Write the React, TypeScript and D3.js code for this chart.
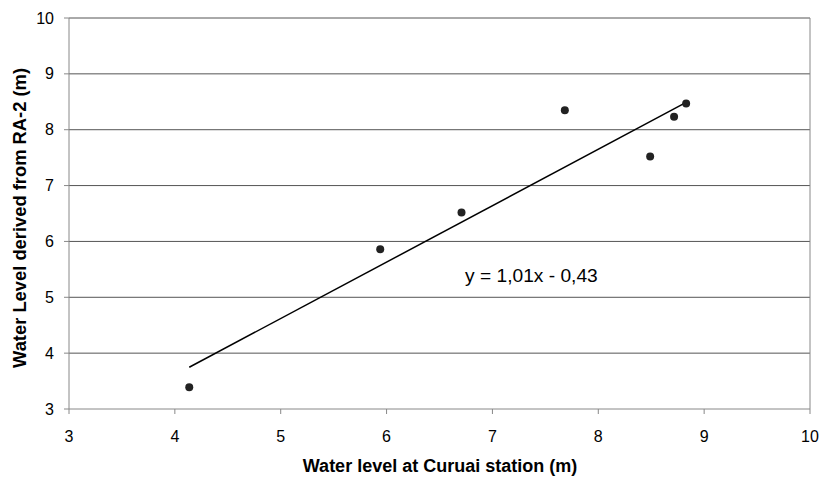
import React from "react";
import * as d3 from "d3";

const xValues = [4.136, 5.94, 6.708, 7.684, 8.49, 8.716, 8.83];
const yValues = [3.39, 5.86, 6.52, 8.35, 7.52, 8.23, 8.47];
const xTicks = [3, 4, 5, 6, 7, 8, 9, 10];
const yTicks = [3, 4, 5, 6, 7, 8, 9, 10];
const trendSlope = 1.01;
const trendIntercept = -0.43;
const equationLabel = "y = 1,01x - 0,43";
const xTitle = "Water level at Curuai station (m)";
const yTitle = "Water Level derived from RA-2 (m)";

export default function App() {
  const W = 822, H = 479;
  const left = 69, right = 810, top = 18, bottom = 409;
  const x = d3.scaleLinear().domain([3, 10]).range([left, right]);
  const y = d3.scaleLinear().domain([3, 10]).range([bottom, top]);
  const font = "Arial, 'Liberation Sans', Helvetica, sans-serif";
  const xMin = d3.min(xValues)!, xMax = d3.max(xValues)!;
  const line = d3.line<number>().x((v) => x(v)).y((v) => y(trendSlope * v + trendIntercept));
  return (
    <svg width={W} height={H} style={{ position: "absolute", left: 0, top: 0, background: "#fff" }} fontFamily={font}>
      <rect x={0} y={0} width={W} height={H} fill="#fff" />
      {yTicks.filter((t) => t > 3).map((t) => (
        <line key={"g" + t} x1={left} x2={right} y1={y(t)} y2={y(t)} stroke="#555" strokeWidth={1} />
      ))}
      <line x1={right} x2={right} y1={top} y2={bottom} stroke="#888" strokeWidth={1} />
      <line x1={left} x2={left} y1={top} y2={bottom} stroke="#888" strokeWidth={1} />
      <line x1={left} x2={right} y1={bottom} y2={bottom} stroke="#888" strokeWidth={1} />
      {yTicks.map((t) => (
        <g key={"y" + t}>
          <line x1={left - 5} x2={left} y1={y(t)} y2={y(t)} stroke="#888" />
          <text x={left - 15} y={y(t)} dy="0.35em" textAnchor="end" fontSize={16} fill="#000">{t}</text>
        </g>
      ))}
      {xTicks.map((t) => (
        <g key={"x" + t}>
          <line x1={x(t)} x2={x(t)} y1={bottom} y2={bottom + 5} stroke="#888" />
          <text x={x(t)} y={bottom + 33} textAnchor="middle" fontSize={16} fill="#000">{t}</text>
        </g>
      ))}
      <path d={line([xMin, xMax]) || ""} stroke="#000" strokeWidth={1.5} fill="none" />
      {xValues.map((v, i) => (
        <circle key={i} cx={x(v)} cy={y(yValues[i])} r={4} fill="#222" />
      ))}
      <text x={465} y={281.5} fontSize={19.2} fill="#000">{equationLabel}</text>
      <text x={440} y={471.5} textAnchor="middle" fontSize={18} fontWeight="bold" fill="#000">{xTitle}</text>
      <text transform={`translate(25.5, 218) rotate(-90)`} textAnchor="middle" fontSize={18} fontWeight="bold" fill="#000" textLength={300} lengthAdjust="spacingAndGlyphs">{yTitle}</text>
    </svg>
  );
}
